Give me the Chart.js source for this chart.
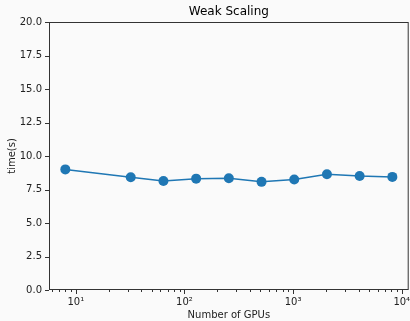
<!DOCTYPE html>
<html>
<head>
<meta charset="utf-8">
<script src="https://cdn.jsdelivr.net/npm/chart.js@4"></script>
<style>
  html, body { margin: 0; padding: 0; background: #fafafa; }
  #wrap { width: 410px; height: 321px; }
</style>
</head>
<body>
<div id="wrap"><canvas id="chart" width="410" height="321"></canvas></div>
<script>
// Data
const gpus = [8, 32, 64, 128, 256, 512, 1024, 2048, 4096, 8192];
const times = [9.0, 8.42, 8.14, 8.31, 8.34, 8.07, 8.24, 8.64, 8.51, 8.44];
const majorTicks = [10, 100, 1000, 10000];
const tickLabels = ['10¹', '10²', '10³', '10⁴'];
const yTicks = [0, 2.5, 5, 7.5, 10, 12.5, 15, 17.5, 20];

const X_MIN = 5.66, X_MAX = 11585;
const FONT = "'DejaVu Sans', sans-serif";

// major + minor tick values for the log axis
function logTickValues() {
  const vals = [];
  [1, 10, 100, 1000, 10000].forEach(dec => {
    for (let m = 1; m <= 9; m++) {
      const v = dec * m;
      if (v >= X_MIN && v <= X_MAX) vals.push(v);
    }
  });
  return vals;
}

// frame and matplotlib-style tick marks
const framePlugin = {
  id: 'frame',
  afterDraw(chart) {
    const { ctx, chartArea: a, scales } = chart;
    ctx.save();
    ctx.strokeStyle = '#333';
    ctx.lineWidth = 1;
    ctx.strokeRect(a.left + 0.5, a.top + 0.5, a.right - a.left - 1, a.bottom - a.top - 1);

    ctx.beginPath();
    scales.x.ticks.forEach(t => {
      const px = Math.round(scales.x.getPixelForValue(t.value)) + 0.5;
      const len = majorTicks.includes(t.value) ? 4 : 2;
      ctx.moveTo(px, a.bottom);
      ctx.lineTo(px, a.bottom + len);
    });
    scales.y.ticks.forEach(t => {
      const py = Math.round(scales.y.getPixelForValue(t.value)) + 0.5;
      ctx.moveTo(a.left, py);
      ctx.lineTo(a.left - 4, py);
    });
    ctx.stroke();
    ctx.restore();
  }
};

new Chart(document.getElementById('chart').getContext('2d'), {
  type: 'line',
  data: {
    datasets: [{
      data: gpus.map((g, i) => ({ x: g, y: times[i] })),
      borderColor: '#1f77b4',
      backgroundColor: '#1f77b4',
      borderWidth: 1.5,
      pointRadius: 5,
      pointBorderWidth: 0,
      tension: 0
    }]
  },
  options: {
    responsive: false,
    animation: false,
    // point overflow would otherwise push the plot's right edge inwards
    layout: { autoPadding: false, padding: { left: 0, right: 1.3, top: 0, bottom: 0 } },
    plugins: {
      legend: { display: false },
      tooltip: { enabled: false },
      title: {
        display: true,
        text: 'Weak Scaling',
        color: '#000',
        fullSize: false,
        font: { family: FONT, size: 12, weight: 'normal' },
        padding: { top: 5, bottom: 2.6 }
      }
    },
    scales: {
      x: {
        type: 'logarithmic',
        min: X_MIN,
        max: X_MAX,
        afterBuildTicks: scale => {
          scale.ticks = logTickValues().map(v => ({ value: v }));
        },
        afterFit: scale => {
          scale.height = 31;
          scale.paddingLeft = 0;
          scale.paddingRight = 0;
        },
        grid: { display: false, drawTicks: false },
        border: { display: false },
        ticks: {
          autoSkip: false,
          maxRotation: 0,
          padding: 6,
          color: '#222',
          font: { family: FONT, size: 10 },
          callback: value => {
            const i = majorTicks.indexOf(value);
            return i >= 0 ? tickLabels[i] : '';
          }
        },
        title: {
          display: true,
          text: 'Number of GPUs',
          color: '#222',
          font: { family: FONT, size: 10 },
          padding: { top: 0, bottom: 0 }
        }
      },
      y: {
        min: 0,
        max: 20,
        afterBuildTicks: scale => {
          scale.ticks = yTicks.map(v => ({ value: v }));
        },
        afterFit: scale => {
          scale.width = 49;
          scale.paddingTop = 0;
          scale.paddingBottom = 0;
        },
        grid: { display: false, drawTicks: false },
        border: { display: false },
        ticks: {
          padding: 7,
          color: '#222',
          font: { family: FONT, size: 10 },
          callback: value => value.toFixed(1)
        },
        title: {
          display: true,
          text: 'time(s)',
          color: '#222',
          font: { family: FONT, size: 10 },
          padding: { top: 6, bottom: 0 }
        }
      }
    }
  },
  plugins: [framePlugin]
});
</script>
</body>
</html>
